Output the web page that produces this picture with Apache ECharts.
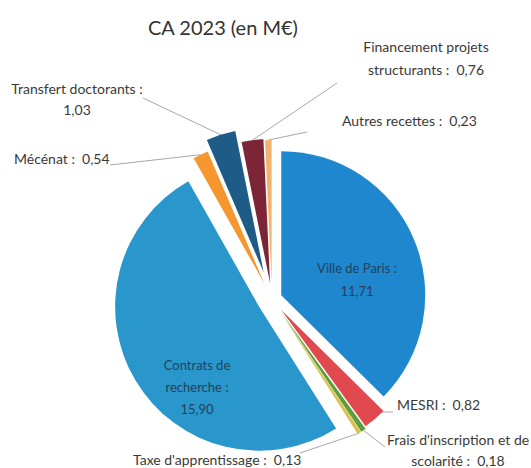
<!DOCTYPE html>
<html><head><meta charset="utf-8">
<script src="https://cdn.jsdelivr.net/npm/echarts@6/dist/echarts.min.js"></script>
<style>html,body{margin:0;padding:0;background:#fff}#c{width:531px;height:468px}</style>
</head><body><div id="c"></div>
<script>
const title = "CA 2023 (en M€)";
const categories = ["Ville de Paris", "MESRI", "Frais d'inscription et de scolarité", "Taxe d'apprentissage", "Contrats de recherche", "Mécénat", "Transfert doctorants", "Financement projets structurants", "Autres recettes"];
const values = [11.71, 0.82, 0.18, 0.13, 15.90, 0.54, 1.03, 0.76, 0.23];
// label name with its line breaks, and separator before the value
const labelNames = ["Ville de Paris :", "MESRI :", "Frais d'inscription et de\nscolarité :", "Taxe d'apprentissage :", "Contrats de\nrecherche :", "Mécénat :", "Transfert doctorants :", "Financement projets\nstructurants :", "Autres recettes :"];
const labelSeps = ["\n", "  ", "  ", "  ", "\n", "  ", "\n", "  ", "  "];

// styling / layout
const colors = ["#1E87CE", "#E04A4F", "#5E9E3A", "#D9C24E", "#2A97CC", "#F5962F", "#1E5B86", "#7B2537", "#F3B26E"];
const explode = [10, 14, 16, 16, 15, 17, 28, 16, 15];
const C = [272, 299], R = 144;
const inside = [true, false, false, false, true, false, false, false, false];
const labelPos = [
  {x: 357, y: 279, align: 'center', lh: 23, fs: 13},
  {x: 397, y: 404, align: 'left', line: [[375, 412], [393, 412]]},
  {x: 458, y: 450, align: 'center', lh: 21, line: [[385, 447], [385, 447]]},
  {x: 133, y: 459, align: 'left', line: [[300, 453], [300, 453]]},
  {x: 197, y: 387, align: 'center', lh: 22, fs: 13},
  {x: 14, y: 158, align: 'left', line: [[110, 165], [110, 165]]},
  {x: 77, y: 99, align: 'center', lh: 21, line: [[143, 98], [143, 98]]},
  {x: 426, y: 58, align: 'center', lh: 23, line: [[337, 83], [337, 83]]},
  {x: 342, y: 120, align: 'left', line: [[307, 132], [307, 132]]}
];

const fmt = v => v.toFixed(2).replace('.', ',');
const total = values.reduce((a, b) => a + b, 0);
let acc = 0;
const series = values.map((v, i) => {
  const mid = (acc + v / 2) / total * 2 * Math.PI;
  acc += v;
  const cx = C[0] + explode[i] * Math.sin(mid);
  const cy = C[1] - explode[i] * Math.cos(mid);
  const lp = labelPos[i];
  return {
    type: 'pie', center: [cx, cy], radius: [0, R], startAngle: 90, clockwise: true,
    avoidLabelOverlap: false, silent: true, animation: false, minAngle: 0, minShowLabelAngle: 0,
    data: values.map((w, j) => ({
      name: categories[j], value: w,
      itemStyle: {color: j === i ? colors[i] : 'rgba(0,0,0,0)', borderWidth: 0},
      label: {show: j === i},
      labelLine: {show: j === i && !inside[i]}
    })),
    label: {
      position: inside[i] ? 'inside' : 'outside',
      formatter: () => labelNames[i] + labelSeps[i] + fmt(values[i]),
      fontFamily: 'Lato', fontSize: lp.fs || 14,
      color: inside[i] ? '#23415c' : '#3a3a3a',
      lineHeight: lp.lh || 16, align: lp.align
    },
    labelLine: {length: 10, length2: 10, lineStyle: {color: '#a8a8a8', width: 1}},
    labelLayout: function (params) {
      const res = {x: lp.x, y: lp.y, align: lp.align, verticalAlign: 'middle'};
      if (lp.line && params.labelLinePoints) {
        res.labelLinePoints = [params.labelLinePoints[0], lp.line[0], lp.line[1]];
      }
      return res;
    }
  };
});

const chart = echarts.init(document.getElementById('c'), null, {renderer: 'svg'});
chart.setOption({
  backgroundColor: '#fff',
  title: {text: title, left: 143, top: 12, textStyle: {fontFamily: 'Lato', fontSize: 20, fontWeight: 'normal', color: '#333'}},
  series: series
});
</script></body></html>
